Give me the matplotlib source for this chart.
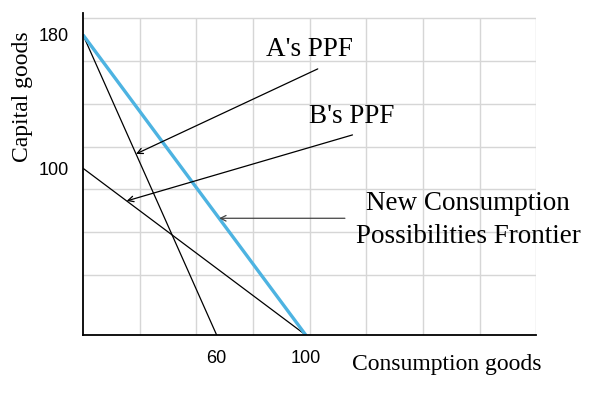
import matplotlib
matplotlib.use('Agg')
from matplotlib import pyplot as plt
import numpy as np

# production possibility frontiers (consumption goods, capital goods)
a_ppf_x = [0, 60]
a_ppf_y = [180, 0]
b_ppf_x = [0, 100]
b_ppf_y = [100, 0]
new_cpf_x = [0, 100]
new_cpf_y = [180, 0]

x_ticks = [60, 100]
y_ticks = [100, 180]

# arrow labels: text, text position, arrow tail, arrow tip
labels = ["A's PPF", "B's PPF", "New Consumption\nPossibilities Frontier"]
label_pos = [(101.5, 171), (120.8, 131), (172.9, 69)]
arrow_tail = [(105.4, 159.6), (121.0, 120.0), (117.6, 70)]
arrow_tip = [(23.8, 108.6), (19.6, 80.4), (61.1, 70)]

fig = plt.figure(figsize=(6.02, 3.97), dpi=100)
ax = fig.add_axes([0.1379, 0.1562, 0.7532, 0.8118])

xmax, ymax = 203.6, 193.3
grid_top = 190.2
ax.set_xlim(0, xmax)
ax.set_ylim(0, ymax)

# light grid, drawn by hand so it stops at the top grid line
for gx in np.linspace(0, xmax, 9)[1:]:
    ax.vlines(gx, 0, grid_top, color='#d6d6d6', lw=1, zorder=0)
for gy in [35.9, 61.6, 87.3, 112.9, 138.6, 164.3, grid_top]:
    ax.hlines(gy, 0, xmax, color='#d6d6d6', lw=1, zorder=0)

ax.plot(a_ppf_x, a_ppf_y, color='black', lw=0.9)
ax.plot(b_ppf_x, b_ppf_y, color='black', lw=0.9)
ax.plot(new_cpf_x, new_cpf_y, color='#4db3e1', lw=2.4, solid_capstyle='butt')

for i in range(len(labels)):
    col = '#444444' if i == 2 else 'black'
    ax.annotate('', xy=arrow_tip[i], xytext=arrow_tail[i],
                arrowprops=dict(arrowstyle='->', color=col, lw=0.9,
                                shrinkA=0, shrinkB=0, mutation_scale=10))
    ax.text(label_pos[i][0], label_pos[i][1], labels[i], ha='center', va='center',
            family='Liberation Serif', fontsize=19.5, linespacing=1.45)

for s in ['top', 'right']:
    ax.spines[s].set_visible(False)
for s in ['left', 'bottom']:
    ax.spines[s].set_linewidth(1.3)
    ax.spines[s].set_color('black')

ax.set_xticks(x_ticks)
ax.set_yticks(y_ticks)
ax.tick_params(length=0, labelsize=13)
ax.tick_params(axis='y', pad=10)
ax.tick_params(axis='x', pad=11)
for lab in ax.get_xticklabels() + ax.get_yticklabels():
    lab.set_family('Liberation Sans')

ax.set_ylabel('Capital goods', family='Liberation Serif', fontsize=17)
ax.yaxis.set_label_coords(-0.11, 0.738)
ax.set_xlabel('Consumption goods', family='Liberation Serif', fontsize=17)
ax.xaxis.set_label_coords(0.803, -0.058)

plt.savefig('out.png', dpi=100)
